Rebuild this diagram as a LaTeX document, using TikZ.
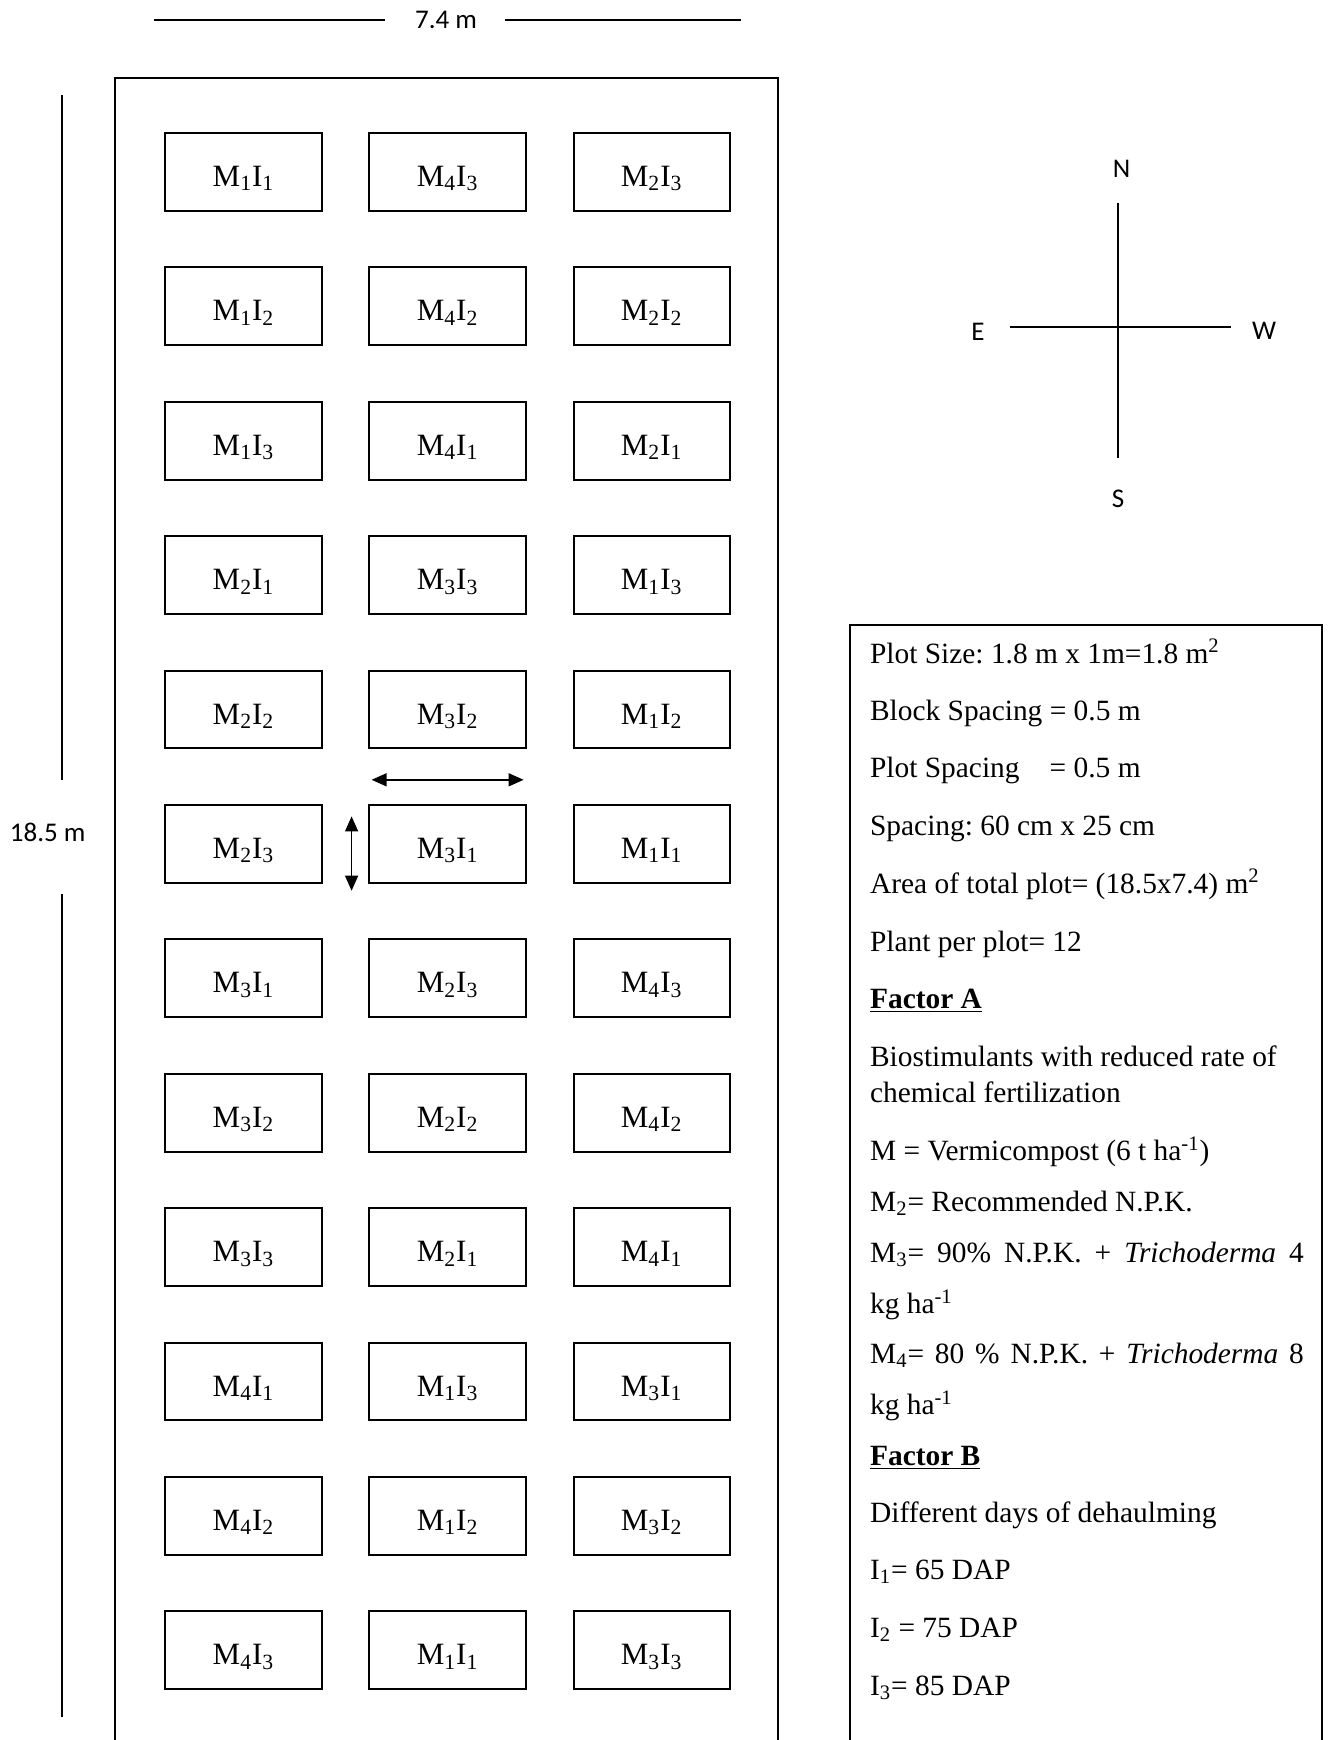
\documentclass[tikz,border=0pt]{standalone}
\usepackage{fontspec}
\setmainfont{Liberation Serif}
\newfontfamily\calibrifont{Carlito}
\usetikzlibrary{arrows.meta}
\frenchspacing
\newcommand\plab[2]{\raisebox{-7.3pt}[0pt][0pt]{M\textsubscript{#1}I\textsubscript{#2}}}
\begin{document}
\frenchspacing
\begin{tikzpicture}[x=0.5pt,y=-0.5pt,
  plotbox/.style={draw, line width=1pt, minimum width=78.2pt, minimum height=38.9pt, inner sep=0pt, font=\fontsize{15.5}{18}\selectfont},
  dimtext/.style={font=\calibrifont\fontsize{13.5}{16}\selectfont, inner sep=0pt},
  legtext/.style={anchor=base west, inner sep=0pt, font=\fontsize{14.7}{18}\selectfont\frenchspacing},
  dimline/.style={line width=0.8pt},
  frameline/.style={line width=1pt},
  spacearrow/.style={{Triangle[length=7.5pt,width=6.5pt]}-{Triangle[length=7.5pt,width=6.5pt]}, line width=0.7pt}
]
\useasboundingbox[fill=white] (0,0) rectangle (1330,1740);

% dimension: width
\node[dimtext] (wdim) at (446,20) {7.4 m};
\coordinate (w1) at (154.2,20); \coordinate (w2) at (384.9,20);
\coordinate (w3) at (504.7,20); \coordinate (w4) at (741,20);
\draw[dimline] (w1) -- (w2);
\draw[dimline] (w3) -- (w4);

% dimension: height
\node[dimtext] (hdim) at (47.7,832) {18.5 m};
\coordinate (h1) at (62.1,95.4); \coordinate (h2) at (62.1,779.8);
\coordinate (h3) at (62.1,894); \coordinate (h4) at (62.1,1717);
\draw[dimline] (h1) -- (h2);
\draw[dimline] (h3) -- (h4);

% field outline (open at bottom)
\draw[frameline] (115.4,1745) -- (115.4,77.6) -- (777.6,77.6) -- (777.6,1745);

% plots
\foreach \r/\ma/\ia/\mb/\ib/\mc/\ic in {
  0/1/1/4/3/2/3, 1/1/2/4/2/2/2, 2/1/3/4/1/2/1, 3/2/1/3/3/1/3,
  4/2/2/3/2/1/2, 5/2/3/3/1/1/1, 6/3/1/2/3/4/3, 7/3/2/2/2/4/2,
  8/3/3/2/1/4/1, 9/4/1/1/3/3/1, 10/4/2/1/2/3/2, 11/4/3/1/1/3/3}{
  \node[plotbox] (p-\r-1) at (243.5,{171.9+134.4*\r}) {\plab{\ma}{\ia}};
  \node[plotbox] (p-\r-2) at (447.6,{171.9+134.4*\r}) {\plab{\mb}{\ib}};
  \node[plotbox] (p-\r-3) at (651.7,{171.9+134.4*\r}) {\plab{\mc}{\ic}};
}

% spacing arrows
\coordinate (ha1) at (371.6,779.8); \coordinate (ha2) at (523.6,779.8);
\draw[spacearrow] (ha1) -- (ha2);
\coordinate (va1) at (351.6,816.4); \coordinate (va2) at (351.6,890.7);
\draw[spacearrow] (va1) -- (va2);

% compass
\coordinate (cN) at (1117.7,203); \coordinate (cS) at (1117.7,458);
\coordinate (cE) at (1010,326.7); \coordinate (cW) at (1230.5,326.7);
\draw[line width=0.9pt] (cN) -- (cS);
\draw[line width=0.9pt] (cE) -- (cW);
\node[dimtext] (lN) at (1121.5,168.6) {N};
\node[dimtext] (lS) at (1118,499) {S};
\node[dimtext] (lE) at (978,331.5) {E};
\node[dimtext] (lW) at (1264,331) {W};

% legend box (open at bottom)
\draw[frameline] (849.7,1745) -- (849.7,624.5) -- (1322.2,624.5) -- (1322.2,1745);

\node[legtext] (t1) at (869.7,663) {Plot Size: 1.8 m x 1m=1.8 m\textsuperscript{2}};
\node[legtext] (t2) at (869.7,720) {Block Spacing = 0.5 m};
\node[legtext] (t3) at (869.7,777.5) {\rlap{Plot Spacing}\hphantom{Block Spacing }= 0.5 m};
\node[legtext] (t4) at (869.7,835.5) {Spacing: 60 cm x 25 cm};
\node[legtext] (t5) at (869.7,893) {Area of total plot= (18.5x7.4) m\textsuperscript{2}};
\node[legtext] (t6) at (869.7,951) {Plant per plot= 12};
\node[legtext] (t7) at (869.7,1008.5) {\underline{\textbf{Factor A}}};
\node[legtext] (t8) at (869.7,1066) {Biostimulants with reduced rate of};
\node[legtext] (t9) at (869.7,1102.5) {chemical fertilization};
\node[legtext] (t10) at (869.7,1160.5) {M = Vermicompost (6 t ha\textsuperscript{-1})};
\node[legtext] (t11) at (869.7,1211.5) {M\textsubscript{2}= Recommended N.P.K.};
\node[legtext] (t12) at (869.7,1262.5) {\makebox[216.9pt][s]{M\textsubscript{3}= 90\% N.P.K. + \textit{Trichoderma} 4}};
\node[legtext] (t13) at (869.7,1313.5) {kg ha\textsuperscript{-1}};
\node[legtext] (t14) at (869.7,1363.5) {\makebox[216.9pt][s]{M\textsubscript{4}= 80 \% N.P.K. + \textit{Trichoderma} 8}};
\node[legtext] (t15) at (869.7,1414.5) {kg ha\textsuperscript{-1}};
\node[legtext] (t16) at (869.7,1465.5) {\underline{\textbf{Factor B}}};
\node[legtext] (t17) at (869.7,1522) {Different days of dehaulming};
\node[legtext] (t18) at (869.7,1579.5) {I\textsubscript{1}= 65 DAP};
\node[legtext] (t19) at (869.7,1637.5) {I\textsubscript{2} = 75 DAP};
\node[legtext] (t20) at (869.7,1695) {I\textsubscript{3}= 85 DAP};
\end{tikzpicture}
\end{document}
